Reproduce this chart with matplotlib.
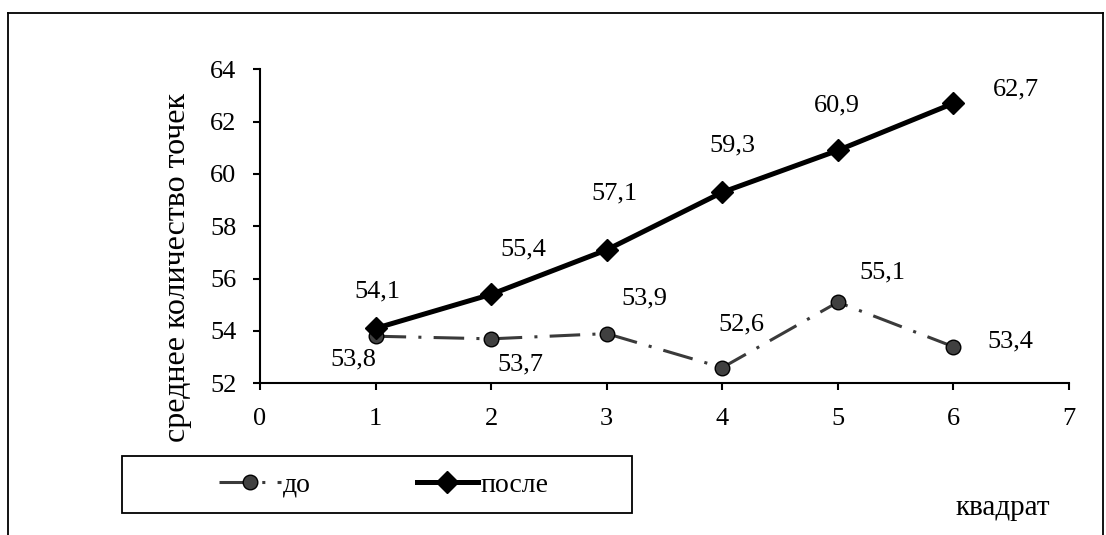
import matplotlib
matplotlib.use("Agg")
import matplotlib.pyplot as plt
from matplotlib.lines import Line2D
from matplotlib.patches import Rectangle

plt.rcParams['font.family'] = ['Liberation Serif', 'DejaVu Serif']

x = [1, 2, 3, 4, 5, 6]
before = [53.8, 53.7, 53.9, 52.6, 55.1, 53.4]
after = [54.1, 55.4, 57.1, 59.3, 60.9, 62.7]
before_labels = ["53,8", "53,7", "53,9", "52,6", "55,1", "53,4"]
after_labels = ["54,1", "55,4", "57,1", "59,3", "60,9", "62,7"]
yticks = [52, 54, 56, 58, 60, 62, 64]
xticks = [0, 1, 2, 3, 4, 5, 6, 7]

# label offsets in pixels (dx, dy up)
before_off = [(-22, -23), (29, -26), (38, 35), (19, 43), (45, 30), (57, 5)]
after_off = [(2, 37), (32, 45), (8, 56), (10, 47), (-1, 45), (63, 14)]

fig = plt.figure(figsize=(11.06, 5.35), dpi=100)
ax = fig.add_axes([0.2351, 0.2835, 0.7314, 0.587])

fs = 19
l1, = ax.plot(x, before, color='#3a3a3a', lw=2.2, linestyle=(0, (10, 4, 1, 4)),
              marker='o', markersize=10.5, markerfacecolor='#404040',
              markeredgecolor='black', markeredgewidth=1.0, label='до')
l2, = ax.plot(x, after, color='black', lw=3.6, marker='D', markersize=11,
              markerfacecolor='black', markeredgecolor='black', label='после')

for xi, yi, t, (dx, dy) in zip(x, before, before_labels, before_off):
    ax.annotate(t, (xi, yi), xytext=(dx * 0.72, dy * 0.72), textcoords='offset points',
                ha='center', va='center', fontsize=fs)
for xi, yi, t, (dx, dy) in zip(x, after, after_labels, after_off):
    ax.annotate(t, (xi, yi), xytext=(dx * 0.72, dy * 0.72), textcoords='offset points',
                ha='center', va='center', fontsize=fs)

ax.set_xlim(0, 7)
ax.set_ylim(52, 64)
ax.set_xticks(xticks)
ax.set_yticks(yticks)
ax.set_xticklabels([str(v) for v in xticks])
ax.set_yticklabels([str(v) for v in yticks])
ax.spines['top'].set_visible(False)
ax.spines['right'].set_visible(False)
ax.spines['left'].set_linewidth(1.5)
ax.spines['bottom'].set_linewidth(1.5)
ax.tick_params(axis='x', direction='out', length=5, width=1.5, pad=13, labelsize=fs)
ax.tick_params(axis='y', direction='out', length=5, width=1.5, pad=12, labelsize=fs)

fig.text(177 / 1106, 1 - 268 / 535, 'среднее количество точек', rotation=90,
         ha='center', va='center', fontsize=23)
fig.text(1003 / 1106, 1 - 508 / 535, 'квадрат', ha='center', va='center', fontsize=21)

# legend box
fig.patches.append(Rectangle((122 / 1106, 1 - 513 / 535), 510 / 1106, 57 / 535,
                             transform=fig.transFigure, fill=False,
                             edgecolor='black', linewidth=1.3))
fig.legend(handles=[l1, l2], loc='center', bbox_to_anchor=(384 / 1106, 1 - 485 / 535),
           ncol=2, frameon=False, fontsize=20, handlelength=2.2, handletextpad=0.1,
           columnspacing=3.8)

# outer frame (no bottom edge)
for xs, ys in [((8 / 1106, 8 / 1106), (0, 1 - 13 / 535)),
               ((8 / 1106, 1103 / 1106), (1 - 13 / 535, 1 - 13 / 535)),
               ((1103 / 1106, 1103 / 1106), (1 - 13 / 535, 0))]:
    fig.lines.append(Line2D(xs, ys, transform=fig.transFigure, color='black', lw=1.3))

fig.savefig('out.png', dpi=100)
